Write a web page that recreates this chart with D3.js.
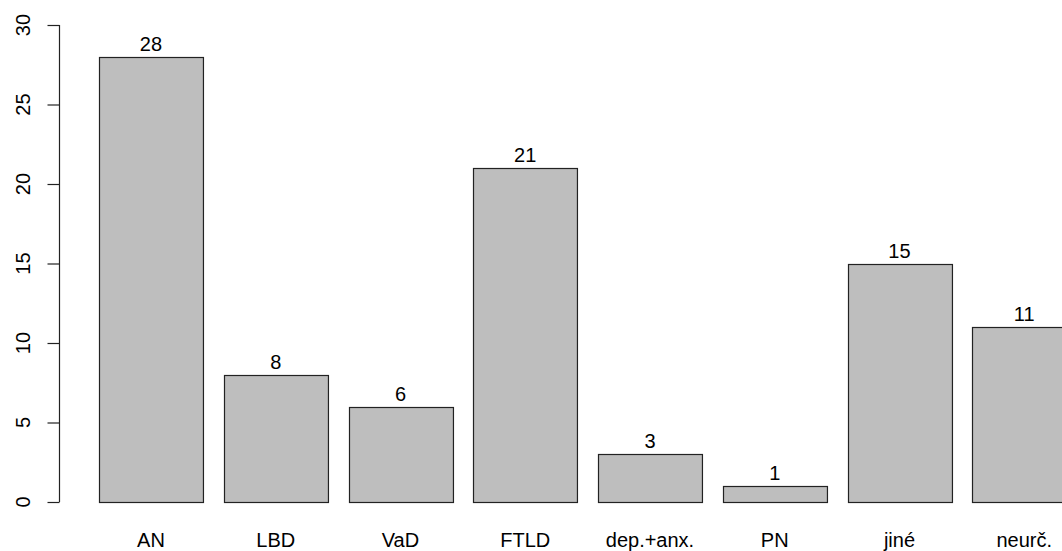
<!DOCTYPE html>
<html>
<head>
<meta charset="utf-8">
<script src="https://cdn.jsdelivr.net/npm/d3@7"></script>
<style>
  html, body { margin: 0; padding: 0; background: #fff; }
  svg { display: block; }
  text { font-family: "Liberation Sans", Arial, sans-serif; fill: #000; }
</style>
</head>
<body>
<svg id="chart" width="1062" height="551"></svg>
<script>
const categories = ["AN", "LBD", "VaD", "FTLD", "dep.+anx.", "PN", "jiné", "neurč."];
const values = [28, 8, 6, 21, 3, 1, 15, 11];
const yTicks = [0, 5, 10, 15, 20, 25, 30];

const W = 1062, H = 551;
const svg = d3.select("#chart");

const y = d3.scaleLinear().domain([0, 30]).range([502, 25]);
const step = 124.75;
const pInner = 0.2 / 1.2;
const x0 = 99;
const x = d3.scaleBand()
  .domain(categories)
  .range([x0, x0 + step * (categories.length - pInner)])
  .paddingInner(pInner)
  .paddingOuter(0);

const fs = 20;

// bars
svg.append("g").selectAll("rect")
  .data(categories)
  .join("rect")
  .attr("x", d => Math.round(x(d)) + 0.5)
  .attr("y", (d, i) => Math.round(y(values[i])) + 0.5)
  .attr("width", x.bandwidth())
  .attr("height", (d, i) => Math.round(y(0)) - Math.round(y(values[i])))
  .attr("fill", "#bebebe")
  .attr("stroke", "#222")
  .attr("stroke-width", 1.2);

// value labels
svg.append("g").selectAll("text")
  .data(categories)
  .join("text")
  .attr("x", d => x(d) + x.bandwidth() / 2)
  .attr("y", (d, i) => y(values[i]) - 6)
  .attr("text-anchor", "middle")
  .attr("font-size", fs)
  .attr("fill", "#222")
  .text((d, i) => values[i]);

// category labels
svg.append("g").selectAll("text")
  .data(categories)
  .join("text")
  .attr("x", d => x(d) + x.bandwidth() / 2)
  .attr("y", 547)
  .attr("text-anchor", "middle")
  .attr("font-size", fs)
  .attr("fill", "#222")
  .text(d => d);

// y axis (R style)
const axisX = 59.5;
const yAxis = d3.axisLeft(y).tickValues(yTicks).tickSize(12).tickPadding(0).tickFormat(d3.format("d"));
const ga = svg.append("g").attr("transform", `translate(${axisX},0)`).call(yAxis);
ga.select(".domain").attr("d", `M0,${y(30)}V${y(0)}`).attr("stroke", "#222").attr("stroke-width", 1.2);
ga.selectAll(".tick line").attr("stroke", "#222").attr("stroke-width", 1.2);
ga.selectAll(".tick text").remove();

svg.append("g").selectAll("text")
  .data(yTicks)
  .join("text")
  .attr("transform", d => `translate(29.5,${y(d)}) rotate(-90)`)
  .attr("text-anchor", "middle")
  .attr("font-size", fs)
  .attr("fill", "#222")
  .text(d => d);
</script>
</body>
</html>
